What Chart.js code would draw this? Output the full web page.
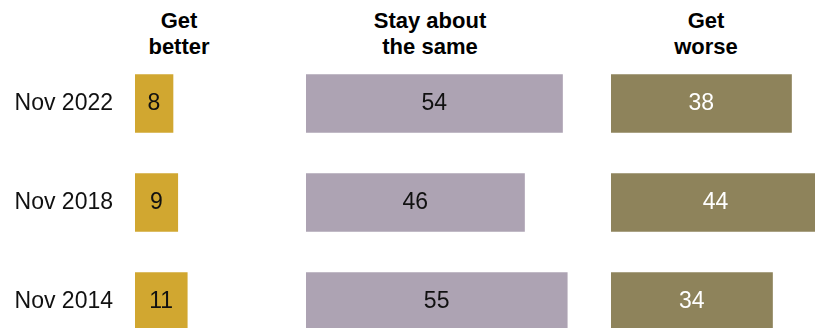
<!DOCTYPE html>
<html>
<head>
<meta charset="utf-8">
<script src="https://cdn.jsdelivr.net/npm/chart.js@4.4.0/dist/chart.umd.min.js"></script>
<style>
    html, body { margin: 0; padding: 0; background: #fff; }
    #wrap { position: relative; width: 815px; height: 328px; overflow: hidden; }
    .head {
        position: absolute; top: 8px; width: 220px; margin-left: -110px;
        text-align: center; color: #000;
        font: bold 22px/26px "Liberation Sans", Arial, sans-serif;
    }
    .panel { position: absolute; top: 54px; height: 297px; }
</style>
</head>
<body>
<div id="wrap">
    <div class="head" style="left:179px">Get<br>better</div>
    <div class="head" style="left:430px">Stay about<br>the same</div>
    <div class="head" style="left:706px">Get<br>worse</div>

    <div class="panel" style="left:0; width:300px"><canvas id="better"></canvas></div>
    <div class="panel" style="left:306px; width:290px"><canvas id="same"></canvas></div>
    <div class="panel" style="left:611px; width:204px"><canvas id="worse"></canvas></div>
</div>

<script>
// =====================================
// DATA
// =====================================
const PERIODS = ["Nov 2022", "Nov 2018", "Nov 2014"];
const GET_BETTER = [8, 9, 11];
const STAY_SAME = [54, 46, 55];
const GET_WORSE = [38, 44, 34];

// =====================================
// CONFIG
// =====================================
const COLORS = {
    better: "#D1A730",   // gold
    same: "#ADA3B3",     // grey lilac
    worse: "#8E835B"     // olive
};

const FONT = "'Liberation Sans', Arial, sans-serif";
const PX_PER_POINT = 4.75;   // same scale in all three panels
const LABEL_WIDTH = 135;     // room for the period labels

// =====================================
// VALUE LABELS INSIDE BARS
// =====================================
const valueLabels = {
    id: "valueLabels",
    afterDatasetsDraw(chart, args, opts) {
        const ctx = chart.ctx;
        const values = chart.data.datasets[0].data;

        ctx.save();
        ctx.font = "23px " + FONT;
        ctx.fillStyle = opts.color || "#000";
        ctx.textAlign = "center";
        ctx.textBaseline = "middle";

        chart.getDatasetMeta(0).data.forEach((bar, i) => {
            ctx.fillText(String(values[i]), (bar.x + bar.base) / 2, bar.y);
        });

        ctx.restore();
    }
};

// =====================================
// ONE PANEL
// =====================================
function makePanel(id, values, color, textColor, showLabels) {
    const canvas = document.getElementById(id);
    const boxWidth = canvas.parentNode.clientWidth;
    const plotWidth = boxWidth - (showLabels ? LABEL_WIDTH : 0);

    const yAxis = {
        display: showLabels,
        grid: { display: false, drawTicks: false },
        border: { display: false },
        ticks: {
            padding: 22,
            color: "#111",
            font: { family: FONT, size: 23 }
        }
    };
    if (showLabels) {
        // fixed label column, and no extra room above/below the rows
        yAxis.afterFit = axis => {
            axis.width = LABEL_WIDTH;
            axis.paddingTop = 0;
            axis.paddingBottom = 0;
        };
    }

    return new Chart(canvas, {
        type: "bar",
        data: {
            labels: PERIODS,
            datasets: [{
                data: values,
                backgroundColor: color,
                borderWidth: 0,
                barThickness: 58
            }]
        },
        options: {
            indexAxis: "y",
            responsive: true,
            maintainAspectRatio: false,
            animation: false,
            layout: { padding: 0 },
            plugins: {
                legend: { display: false },
                tooltip: { enabled: false },
                valueLabels: { color: textColor }
            },
            scales: {
                x: {
                    display: false,
                    min: 0,
                    max: plotWidth / PX_PER_POINT
                },
                y: yAxis
            }
        },
        plugins: [valueLabels]
    });
}

// =====================================
// START
// =====================================
makePanel("better", GET_BETTER, COLORS.better, "#111", true);
makePanel("same", STAY_SAME, COLORS.same, "#111", false);
makePanel("worse", GET_WORSE, COLORS.worse, "#fff", false);
</script>
</body>
</html>
